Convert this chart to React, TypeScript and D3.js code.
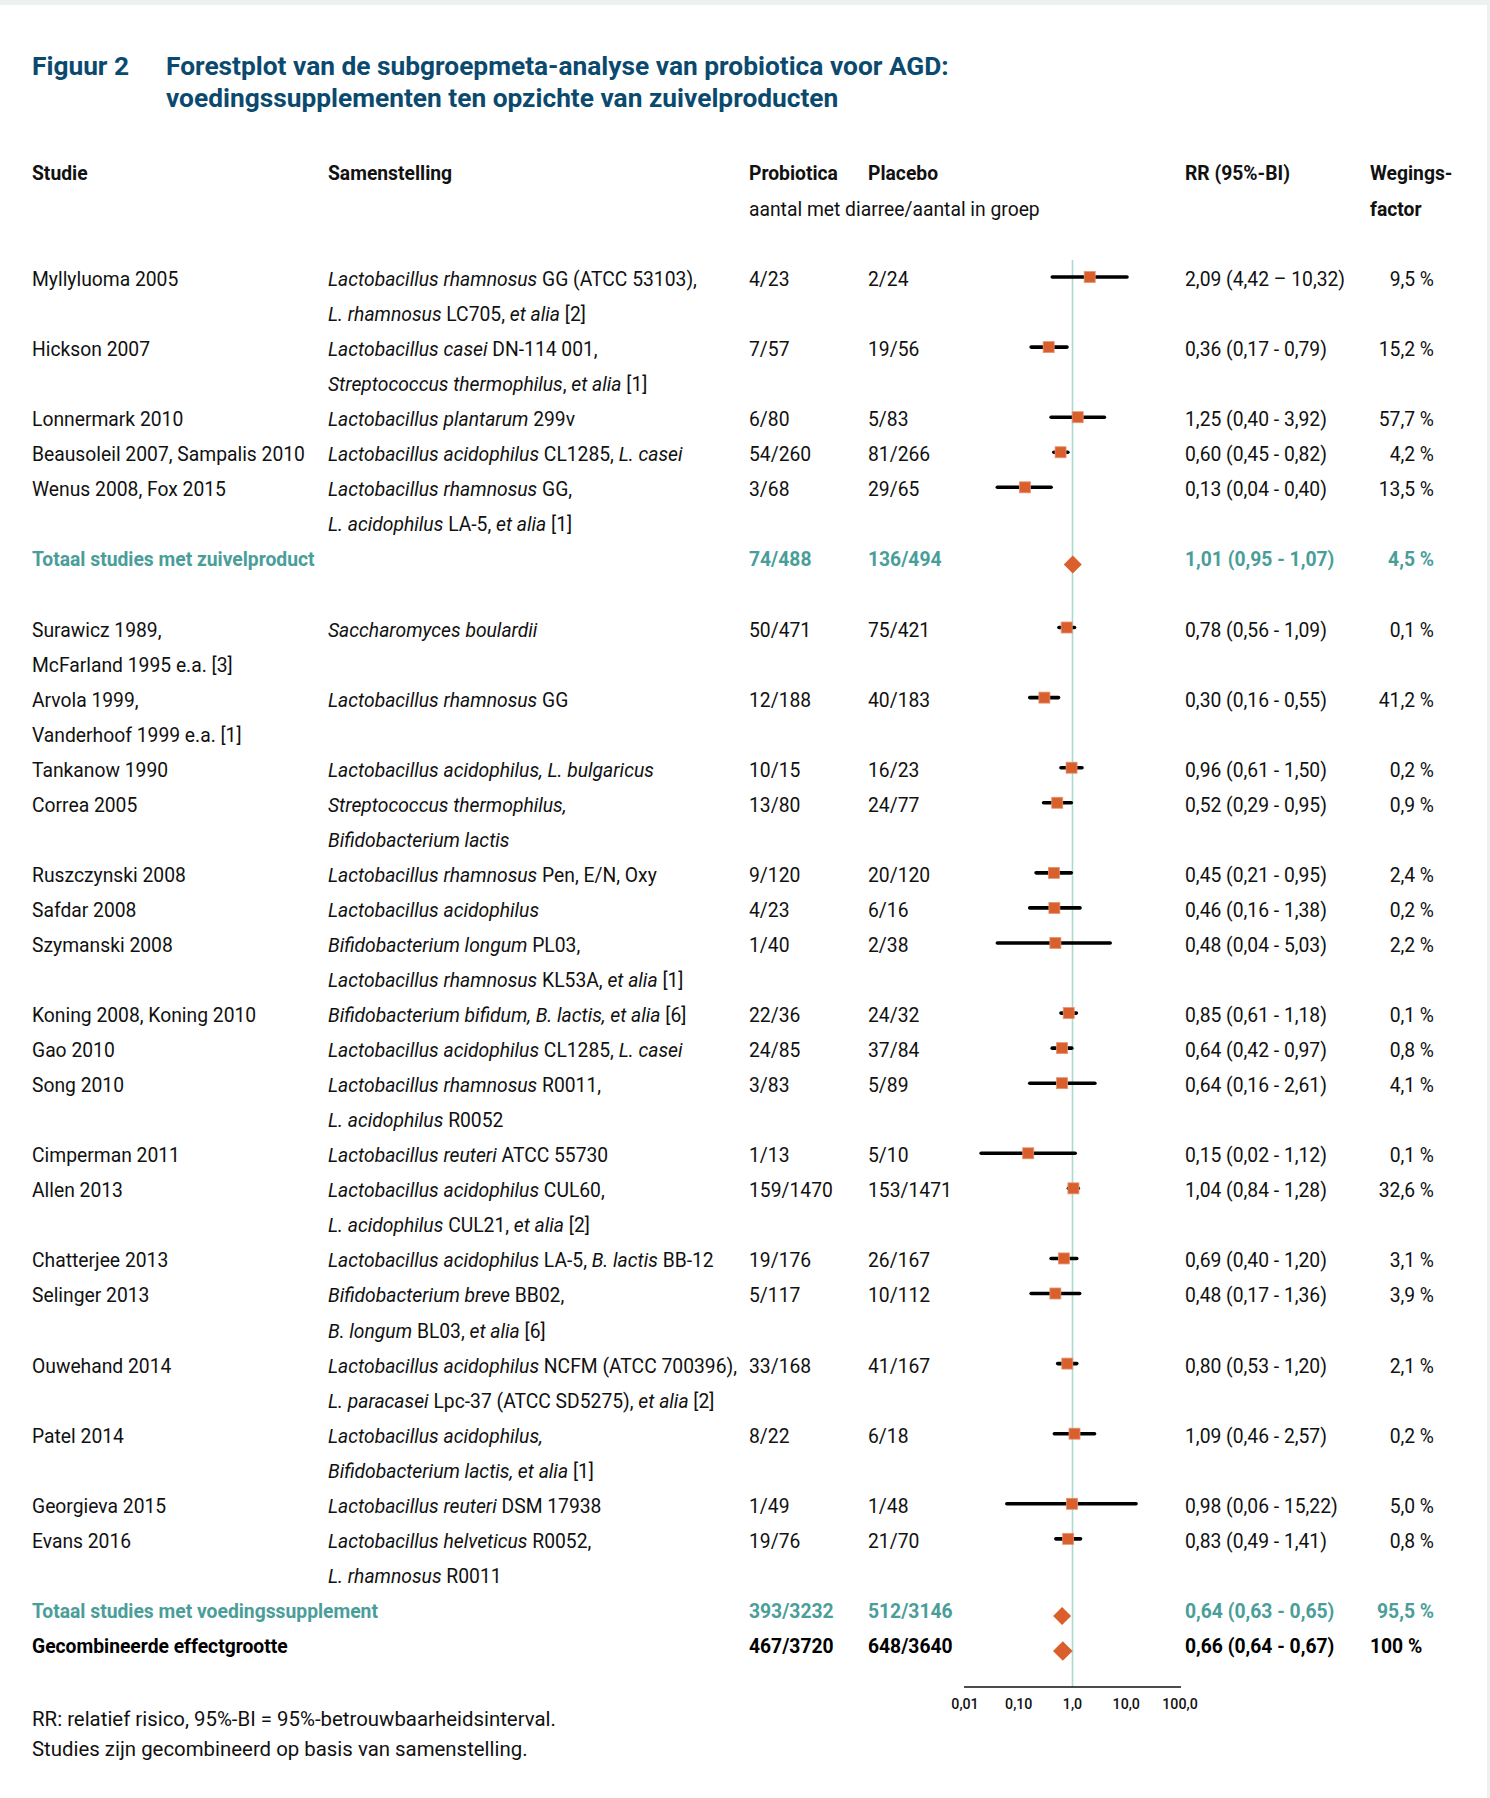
import React from "react";
import * as d3 from "d3";

// ---------- DATA ----------
const studyNamesA: string[][] = [
  ["Myllyluoma 2005"],
  ["Hickson 2007"],
  ["Lonnermark 2010"],
  ["Beausoleil 2007, Sampalis 2010"],
  ["Wenus 2008, Fox 2015"],
];
const compositionsA: string[][] = [
  ["*Lactobacillus rhamnosus* GG (ATCC 53103),", "*L. rhamnosus* LC705, *et alia* [2]"],
  ["*Lactobacillus casei* DN-114 001,", "*Streptococcus thermophilus*, *et alia* [1]"],
  ["*Lactobacillus plantarum* 299v"],
  ["*Lactobacillus acidophilus* CL1285, *L. casei*"],
  ["*Lactobacillus rhamnosus* GG,", "*L. acidophilus* LA-5, *et alia* [1]"],
];
const probioticaA = ["4/23", "7/57", "6/80", "54/260", "3/68"];
const placeboA = ["2/24", "19/56", "5/83", "81/266", "29/65"];
const rrA = [2.09, 0.36, 1.25, 0.6, 0.13];
const loA = [0.42, 0.17, 0.4, 0.45, 0.04];
const hiA = [10.32, 0.79, 3.92, 0.82, 0.4];
const rrTextA = [
  "2,09 (4,42 – 10,32)",
  "0,36 (0,17 - 0,79)",
  "1,25 (0,40 - 3,92)",
  "0,60 (0,45 - 0,82)",
  "0,13 (0,04 - 0,40)",
];
const weightA = [9.5, 15.2, 57.7, 4.2, 13.5];

const studyNamesB: string[][] = [
  ["Surawicz 1989,", "McFarland 1995 e.a. [3]"],
  ["Arvola 1999,", "Vanderhoof 1999 e.a. [1]"],
  ["Tankanow 1990"],
  ["Correa 2005"],
  ["Ruszczynski 2008"],
  ["Safdar 2008"],
  ["Szymanski 2008"],
  ["Koning 2008, Koning 2010"],
  ["Gao 2010"],
  ["Song 2010"],
  ["Cimperman 2011"],
  ["Allen 2013"],
  ["Chatterjee 2013"],
  ["Selinger 2013"],
  ["Ouwehand 2014"],
  ["Patel 2014"],
  ["Georgieva 2015"],
  ["Evans 2016"],
];
const compositionsB: string[][] = [
  ["*Saccharomyces boulardii*"],
  ["*Lactobacillus rhamnosus* GG"],
  ["*Lactobacillus acidophilus, L. bulgaricus*"],
  ["*Streptococcus thermophilus,*", "*Bifidobacterium lactis*"],
  ["*Lactobacillus rhamnosus* Pen, E/N, Oxy"],
  ["*Lactobacillus acidophilus*"],
  ["*Bifidobacterium longum* PL03,", "*Lactobacillus rhamnosus* KL53A, *et alia* [1]"],
  ["*Bifidobacterium bifidum, B. lactis, et alia* [6]"],
  ["*Lactobacillus acidophilus* CL1285, *L. casei*"],
  ["*Lactobacillus rhamnosus* R0011,", "*L. acidophilus* R0052"],
  ["*Lactobacillus reuteri* ATCC 55730"],
  ["*Lactobacillus acidophilus* CUL60,", "*L. acidophilus* CUL21, *et alia* [2]"],
  ["*Lactobacillus acidophilus* LA-5, *B. lactis* BB-12"],
  ["*Bifidobacterium breve* BB02,", "*B. longum* BL03, *et alia* [6]"],
  ["*Lactobacillus acidophilus* NCFM (ATCC 700396),", "*L. paracasei* Lpc-37 (ATCC SD5275), *et alia* [2]"],
  ["*Lactobacillus acidophilus,*", "*Bifidobacterium lactis, et alia* [1]"],
  ["*Lactobacillus reuteri* DSM 17938"],
  ["*Lactobacillus helveticus* R0052,", "*L. rhamnosus* R0011"],
];
const probioticaB = ["50/471", "12/188", "10/15", "13/80", "9/120", "4/23", "1/40", "22/36", "24/85", "3/83", "1/13", "159/1470", "19/176", "5/117", "33/168", "8/22", "1/49", "19/76"];
const placeboB = ["75/421", "40/183", "16/23", "24/77", "20/120", "6/16", "2/38", "24/32", "37/84", "5/89", "5/10", "153/1471", "26/167", "10/112", "41/167", "6/18", "1/48", "21/70"];
const rrB = [0.78, 0.3, 0.96, 0.52, 0.45, 0.46, 0.48, 0.85, 0.64, 0.64, 0.15, 1.04, 0.69, 0.48, 0.8, 1.09, 0.98, 0.83];
const loB = [0.56, 0.16, 0.61, 0.29, 0.21, 0.16, 0.04, 0.61, 0.42, 0.16, 0.02, 0.84, 0.4, 0.17, 0.53, 0.46, 0.06, 0.49];
const hiB = [1.09, 0.55, 1.5, 0.95, 0.95, 1.38, 5.03, 1.18, 0.97, 2.61, 1.12, 1.28, 1.2, 1.36, 1.2, 2.57, 15.22, 1.41];
const weightB = [0.1, 41.2, 0.2, 0.9, 2.4, 0.2, 2.2, 0.1, 0.8, 4.1, 0.1, 32.6, 3.1, 3.9, 2.1, 0.2, 5.0, 0.8];

const totalLabels = ["Totaal studies met zuivelproduct", "Totaal studies met voedingssupplement", "Gecombineerde effectgrootte"];
const totalProbiotica = ["74/488", "393/3232", "467/3720"];
const totalPlacebo = ["136/494", "512/3146", "648/3640"];
const totalRR = [1.01, 0.64, 0.66];
const totalLo = [0.95, 0.63, 0.64];
const totalHi = [1.07, 0.65, 0.67];
const totalWeight = ["4,5 %", "95,5 %", "100 %"];

const axisTicks = [0.01, 0.1, 1, 10, 100];
const axisTickLabels = ["0,01", "0,10", "1,0", "10,0", "100,0"];

const titleNumber = "Figuur 2";
const titleLines = [
  "Forestplot van de subgroepmeta-analyse van probiotica voor AGD:",
  "voedingssupplementen ten opzichte van zuivelproducten",
];
const footnotes = [
  "RR: relatief risico, 95%-BI = 95%-betrouwbaarheidsinterval.",
  "Studies zijn gecombineerd op basis van samenstelling.",
];

// ---------- STYLE ----------
const FONT = "Roboto, 'Liberation Sans', Arial, sans-serif";
const FS = 19.3;
const TEAL = "#4a9e9a";
const BLUE = "#0b4a6f";
const ORANGE = "#d95f2d";
const REFLINE = "#a9d9cf";

const COL = { study: 32, comp: 328, prob: 749, plac: 868, rr: 1185, wRight: 1434, wLeft: 1370 };

const fmt2 = (v: number) => v.toFixed(2).replace(".", ",");
const fmtW = (v: number) => v.toFixed(1).replace(".", ",") + " %";

function RichText({ s, x, y, fill = "#111" }: { s: string; x: number; y: number; fill?: string }) {
  const parts = s.split("*");
  return (
    <text x={x} y={y} fontFamily={FONT} fontSize={FS} fill={fill}>
      {parts.map((p, i) =>
        p.length ? (
          <tspan key={i} fontStyle={i % 2 === 1 ? "italic" : "normal"}>
            {p}
          </tspan>
        ) : null
      )}
    </text>
  );
}

type Row = {
  kind: "study" | "total";
  names: string[];
  comps: string[];
  prob: string;
  plac: string;
  rr: number;
  lo: number;
  hi: number;
  rrText: string;
  wText: string;
  row: number;
  totalIdx?: number;
};

function buildRows(): Row[] {
  const rows: Row[] = [];
  let r = 0;
  const addStudies = (names: string[][], comps: string[][], prob: string[], plac: string[], rr: number[], lo: number[], hi: number[], rrText: string[] | null, w: number[]) => {
    names.forEach((n, i) => {
      rows.push({
        kind: "study",
        names: n,
        comps: comps[i],
        prob: prob[i],
        plac: plac[i],
        rr: rr[i],
        lo: lo[i],
        hi: hi[i],
        rrText: rrText ? rrText[i] : `${fmt2(rr[i])} (${fmt2(lo[i])} - ${fmt2(hi[i])})`,
        wText: fmtW(w[i]),
        row: r,
      });
      r += Math.max(n.length, comps[i].length);
    });
  };
  const addTotal = (k: number) => {
    rows.push({
      kind: "total",
      names: [totalLabels[k]],
      comps: [],
      prob: totalProbiotica[k],
      plac: totalPlacebo[k],
      rr: totalRR[k],
      lo: totalLo[k],
      hi: totalHi[k],
      rrText: `${fmt2(totalRR[k])} (${fmt2(totalLo[k])} - ${fmt2(totalHi[k])})`,
      wText: totalWeight[k],
      row: r,
      totalIdx: k,
    });
    r += 1;
  };
  addStudies(studyNamesA, compositionsA, probioticaA, placeboA, rrA, loA, hiA, rrTextA, weightA);
  addTotal(0);
  r += 1; // blank line
  addStudies(studyNamesB, compositionsB, probioticaB, placeboB, rrB, loB, hiB, null, weightB);
  addTotal(1);
  addTotal(2);
  return rows;
}

export default function App() {
  const rows = buildRows();
  const lastRow = rows[rows.length - 1].row;
  const yBase = d3.scaleLinear().domain([0, lastRow]).range([286, 1653]);
  const x = d3.scaleLog().domain([0.01, 100]).range([965, 1180]);
  const axisY = 1687;
  const SQ = 11;

  return (
    <svg
      width={1490}
      height={1798}
      style={{ position: "absolute", left: 0, top: 0, display: "block" }}
      fontFamily={FONT}
    >
      <rect x={0} y={0} width={1490} height={1798} fill="#edf1f1" />
      <rect x={0} y={5} width={1487} height={1793} fill="#ffffff" />

      {/* Title */}
      <g fill={BLUE} fontWeight={700} fontSize={26.3}>
        <text x={32} y={75}>{titleNumber}</text>
        <text x={166} y={75}>{titleLines[0]}</text>
        <text x={166} y={107}>{titleLines[1]}</text>
      </g>

      {/* Header */}
      <g fontWeight={700} fontSize={FS} fill="#111">
        <text x={COL.study} y={180}>Studie</text>
        <text x={COL.comp} y={180}>Samenstelling</text>
        <text x={COL.prob} y={180}>Probiotica</text>
        <text x={COL.plac} y={180}>Placebo</text>
        <text x={COL.rr} y={180}>RR (95%-BI)</text>
        <text x={COL.wLeft} y={180}>Wegings-</text>
        <text x={COL.wLeft} y={216}>factor</text>
      </g>
      <text x={COL.prob} y={216} fontSize={FS} fill="#111">aantal met diarree/aantal in groep</text>

      {/* Reference line at RR = 1 */}
      <line x1={x(1)} x2={x(1)} y1={260} y2={axisY} stroke={REFLINE} strokeWidth={1.6} />

      {/* Rows */}
      {rows.map((d, i) => {
        const yb = yBase(d.row);
        if (d.kind === "study") {
          const my = yb - 9;
          return (
            <g key={i}>
              {d.names.map((n, j) => (
                <text key={"n" + j} x={COL.study} y={yBase(d.row + j)} fontSize={FS} fill="#111">{n}</text>
              ))}
              {d.comps.map((c, j) => (
                <RichText key={"c" + j} s={c} x={COL.comp} y={yBase(d.row + j)} />
              ))}
              <text x={COL.prob} y={yb} fontSize={FS} fill="#111">{d.prob}</text>
              <text x={COL.plac} y={yb} fontSize={FS} fill="#111">{d.plac}</text>
              <text x={COL.rr} y={yb} fontSize={FS} fill="#111">{d.rrText}</text>
              <text x={COL.wRight} y={yb} fontSize={FS} fill="#111" textAnchor="end">{d.wText}</text>
              <line x1={x(d.lo)} x2={x(d.hi)} y1={my} y2={my} stroke="#000" strokeWidth={3.6} strokeLinecap="round" />
              <rect x={x(d.rr) - SQ / 2} y={my - SQ / 2} width={SQ} height={SQ} fill={ORANGE} stroke="#e49574" strokeWidth={0.8} />
            </g>
          );
        }
        const isComb = d.totalIdx === 2;
        const color = isComb ? "#000" : TEAL;
        const s = isComb ? 9.8 : 9;
        const cx = x(d.rr);
        const cy = yb - 2;
        return (
          <g key={i} fill={color} fontWeight={700} fontSize={FS}>
            <text x={COL.study} y={yb}>{d.names[0]}</text>
            <text x={COL.prob} y={yb}>{d.prob}</text>
            <text x={COL.plac} y={yb}>{d.plac}</text>
            <text x={COL.rr} y={yb}>{d.rrText}</text>
            {isComb ? (
              <text x={COL.wLeft} y={yb}>{d.wText}</text>
            ) : (
              <text x={COL.wRight} y={yb} textAnchor="end">{d.wText}</text>
            )}
            <path d={`M${cx},${cy - s}L${cx + s},${cy}L${cx},${cy + s}L${cx - s},${cy}Z`} fill={ORANGE} />
          </g>
        );
      })}

      {/* Axis */}
      <line x1={x(0.01) - 1} x2={x(100) + 1} y1={axisY} y2={axisY} stroke="#111" strokeWidth={1.4} />
      {axisTicks.map((t, i) => (
        <text key={t} x={x(t)} y={1709} fontSize={14.2} fontWeight={500} fill="#111" textAnchor="middle">{axisTickLabels[i]}</text>
      ))}

      {/* Footnotes */}
      {footnotes.map((f, i) => (
        <text key={i} x={32} y={1726 + i * 30} fontSize={20.4} fill="#111">{f}</text>
      ))}
    </svg>
  );
}
